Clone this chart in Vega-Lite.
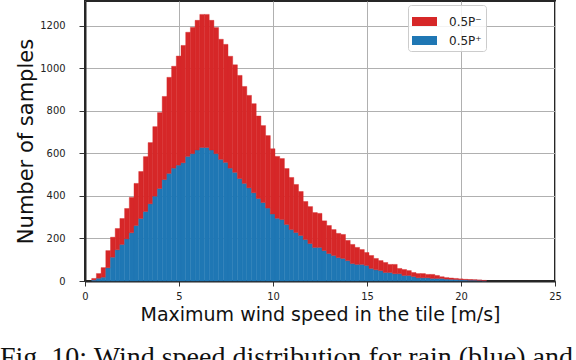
{
  "$schema": "https://vega.github.io/schema/vega-lite/v6.json",
  "width": 470,
  "height": 280,
  "autosize": {"type": "none"},
  "padding": {"left": 85, "top": 1, "right": 21, "bottom": 79},
  "background": "white",
  "title": {
    "text": "Fig. 10: Wind speed distribution for rain (blue) and",
    "orient": "bottom",
    "anchor": "start",
    "frame": "group",
    "dx": -85,
    "offset": 20,
    "baseline": "top",
    "font": "Liberation Serif",
    "fontSize": 28,
    "fontWeight": "normal",
    "color": "#111"
  },
  "config": {
    "view": {"stroke": "#262626", "strokeWidth": 2},
    "axis": {"zindex": 1}
  },
  "data": {
    "values": [
      {"x0": 0.33, "x1": 0.58, "pos": 5, "neg": 7},
      {"x0": 0.58, "x1": 0.83, "pos": 13, "neg": 22},
      {"x0": 0.83, "x1": 1.08, "pos": 18, "neg": 45},
      {"x0": 1.08, "x1": 1.33, "pos": 62, "neg": 81},
      {"x0": 1.33, "x1": 1.58, "pos": 112, "neg": 94},
      {"x0": 1.58, "x1": 1.83, "pos": 147, "neg": 100},
      {"x0": 1.83, "x1": 2.08, "pos": 172, "neg": 122},
      {"x0": 2.08, "x1": 2.33, "pos": 198, "neg": 143},
      {"x0": 2.33, "x1": 2.58, "pos": 227, "neg": 166},
      {"x0": 2.58, "x1": 2.83, "pos": 261, "neg": 198},
      {"x0": 2.83, "x1": 3.08, "pos": 294, "neg": 221},
      {"x0": 3.08, "x1": 3.33, "pos": 327, "neg": 258},
      {"x0": 3.33, "x1": 3.58, "pos": 363, "neg": 288},
      {"x0": 3.58, "x1": 3.83, "pos": 399, "neg": 327},
      {"x0": 3.83, "x1": 4.08, "pos": 435, "neg": 357},
      {"x0": 4.08, "x1": 4.33, "pos": 477, "neg": 391},
      {"x0": 4.33, "x1": 4.58, "pos": 506, "neg": 452},
      {"x0": 4.58, "x1": 4.83, "pos": 531, "neg": 479},
      {"x0": 4.83, "x1": 5.08, "pos": 545, "neg": 513},
      {"x0": 5.08, "x1": 5.33, "pos": 556, "neg": 552},
      {"x0": 5.33, "x1": 5.58, "pos": 586, "neg": 584},
      {"x0": 5.58, "x1": 5.83, "pos": 599, "neg": 594},
      {"x0": 5.83, "x1": 6.08, "pos": 616, "neg": 610},
      {"x0": 6.08, "x1": 6.33, "pos": 628, "neg": 626},
      {"x0": 6.33, "x1": 6.58, "pos": 628, "neg": 626},
      {"x0": 6.58, "x1": 6.83, "pos": 616, "neg": 610},
      {"x0": 6.83, "x1": 7.08, "pos": 599, "neg": 593},
      {"x0": 7.08, "x1": 7.33, "pos": 572, "neg": 565},
      {"x0": 7.33, "x1": 7.58, "pos": 558, "neg": 555},
      {"x0": 7.58, "x1": 7.83, "pos": 531, "neg": 526},
      {"x0": 7.83, "x1": 8.08, "pos": 511, "neg": 506},
      {"x0": 8.08, "x1": 8.33, "pos": 482, "neg": 485},
      {"x0": 8.33, "x1": 8.58, "pos": 459, "neg": 456},
      {"x0": 8.58, "x1": 8.83, "pos": 438, "neg": 435},
      {"x0": 8.83, "x1": 9.08, "pos": 415, "neg": 419},
      {"x0": 9.08, "x1": 9.33, "pos": 388, "neg": 388},
      {"x0": 9.33, "x1": 9.58, "pos": 369, "neg": 362},
      {"x0": 9.58, "x1": 9.83, "pos": 343, "neg": 341},
      {"x0": 9.83, "x1": 10.08, "pos": 315, "neg": 307},
      {"x0": 10.08, "x1": 10.33, "pos": 295, "neg": 291},
      {"x0": 10.33, "x1": 10.58, "pos": 289, "neg": 287},
      {"x0": 10.58, "x1": 10.83, "pos": 266, "neg": 263},
      {"x0": 10.83, "x1": 11.08, "pos": 242, "neg": 245},
      {"x0": 11.08, "x1": 11.33, "pos": 228, "neg": 226},
      {"x0": 11.33, "x1": 11.58, "pos": 214, "neg": 207},
      {"x0": 11.58, "x1": 11.83, "pos": 195, "neg": 179},
      {"x0": 11.83, "x1": 12.08, "pos": 176, "neg": 174},
      {"x0": 12.08, "x1": 12.33, "pos": 158, "neg": 164},
      {"x0": 12.33, "x1": 12.58, "pos": 158, "neg": 160},
      {"x0": 12.58, "x1": 12.83, "pos": 143, "neg": 140},
      {"x0": 12.83, "x1": 13.08, "pos": 129, "neg": 132},
      {"x0": 13.08, "x1": 13.33, "pos": 120, "neg": 122},
      {"x0": 13.33, "x1": 13.58, "pos": 110, "neg": 114},
      {"x0": 13.58, "x1": 13.83, "pos": 106, "neg": 113},
      {"x0": 13.83, "x1": 14.08, "pos": 96, "neg": 95},
      {"x0": 14.08, "x1": 14.33, "pos": 82, "neg": 90},
      {"x0": 14.33, "x1": 14.58, "pos": 78, "neg": 80},
      {"x0": 14.58, "x1": 14.83, "pos": 78, "neg": 70},
      {"x0": 14.83, "x1": 15.08, "pos": 73, "neg": 61},
      {"x0": 15.08, "x1": 15.33, "pos": 59, "neg": 61},
      {"x0": 15.33, "x1": 15.58, "pos": 53, "neg": 53},
      {"x0": 15.58, "x1": 15.83, "pos": 49, "neg": 47},
      {"x0": 15.83, "x1": 16.08, "pos": 40, "neg": 47},
      {"x0": 16.08, "x1": 16.33, "pos": 40, "neg": 38},
      {"x0": 16.33, "x1": 16.58, "pos": 34, "neg": 44},
      {"x0": 16.58, "x1": 16.83, "pos": 34, "neg": 25},
      {"x0": 16.83, "x1": 17.08, "pos": 26, "neg": 28},
      {"x0": 17.08, "x1": 17.33, "pos": 26, "neg": 23},
      {"x0": 17.33, "x1": 17.58, "pos": 21, "neg": 19},
      {"x0": 17.58, "x1": 17.83, "pos": 15, "neg": 20},
      {"x0": 17.83, "x1": 18.08, "pos": 15, "neg": 20},
      {"x0": 18.08, "x1": 18.33, "pos": 15, "neg": 16},
      {"x0": 18.33, "x1": 18.58, "pos": 12, "neg": 19},
      {"x0": 18.58, "x1": 18.83, "pos": 12, "neg": 14},
      {"x0": 18.83, "x1": 19.08, "pos": 12, "neg": 8},
      {"x0": 19.08, "x1": 19.33, "pos": 9, "neg": 7},
      {"x0": 19.33, "x1": 19.58, "pos": 8, "neg": 6},
      {"x0": 19.58, "x1": 19.83, "pos": 7, "neg": 5},
      {"x0": 19.83, "x1": 20.08, "pos": 6, "neg": 4},
      {"x0": 20.08, "x1": 20.33, "pos": 5, "neg": 3},
      {"x0": 20.33, "x1": 20.58, "pos": 4, "neg": 3},
      {"x0": 20.58, "x1": 20.83, "pos": 4, "neg": 2},
      {"x0": 20.83, "x1": 21.08, "pos": 3, "neg": 2},
      {"x0": 21.08, "x1": 21.33, "pos": 1, "neg": 2}
    ]
  },
  "transform": [{"fold": ["pos", "neg"], "as": ["series", "count"]}],
  "mark": {"type": "bar", "strokeWidth": 0.4, "binSpacing": 0},
  "encoding": {
    "x": {
      "field": "x0",
      "type": "quantitative",
      "bin": "binned",
      "scale": {"domain": [0, 25], "nice": false, "zero": false},
      "axis": {
        "values": [0, 5, 10, 15, 20, 25],
        "format": "d",
        "title": "Maximum wind speed in the tile [m/s]",
        "titleFont": "DejaVu Sans",
        "titleFontSize": 19,
        "titleFontWeight": "normal",
        "titleColor": "#111",
        "titleX": 235,
        "titleY": 39,
        "titleBaseline": "alphabetic",
        "labelFont": "DejaVu Sans Condensed, DejaVu Sans",
        "labelFontSize": 11,
        "labelColor": "#222",
        "labelPadding": 4,
        "labelFlush": false,
        "tickSize": 5,
        "tickColor": "#333",
        "tickWidth": 1,
        "domainColor": "#262626",
        "domainWidth": 2,
        "grid": true,
        "gridColor": "#b0b0b0",
        "gridWidth": 1
      }
    },
    "x2": {"field": "x1"},
    "y": {
      "field": "count",
      "type": "quantitative",
      "stack": "zero",
      "scale": {"domain": [0, 1317], "nice": false},
      "axis": {
        "values": [0, 200, 400, 600, 800, 1000, 1200],
        "format": "d",
        "title": "Number of samples",
        "titleFont": "DejaVu Sans",
        "titleFontSize": 21,
        "titleFontWeight": "normal",
        "titleColor": "#111",
        "titleX": -53,
        "titleY": 140,
        "titleAngle": -90,
        "titleAlign": "center",
        "titleBaseline": "alphabetic",
        "labelFont": "DejaVu Sans Condensed, DejaVu Sans",
        "labelFontSize": 11,
        "labelColor": "#222",
        "labelPadding": 14,
        "tickSize": 6,
        "tickColor": "#333",
        "domainColor": "#262626",
        "domainWidth": 2,
        "grid": true,
        "gridColor": "#b0b0b0",
        "gridWidth": 1
      }
    },
    "color": {
      "field": "series",
      "type": "nominal",
      "scale": {"domain": ["neg", "pos"], "range": ["#d62728", "#1f77b4"]},
      "legend": {
        "title": null,
        "orient": "none",
        "legendX": 323,
        "legendY": 4,
        "labelExpr": "datum.label == 'neg' ? '0.5P\u207b' : '0.5P\u207a'",
        "symbolType": "M-1,-0.36H1V0.36H-1Z",
        "symbolSize": 625,
        "symbolStrokeWidth": 0,
        "labelFont": "DejaVu Sans",
        "labelFontSize": 12,
        "labelColor": "#222",
        "labelOffset": 12,
        "rowPadding": -2,
        "padding": 4,
        "strokeColor": "#cccccc",
        "fillColor": "rgba(255,255,255,0.85)",
        "cornerRadius": 3
      }
    },
    "stroke": {
      "field": "series",
      "type": "nominal",
      "scale": {"domain": ["neg", "pos"], "range": ["#d62728", "#1f77b4"]},
      "legend": null
    },
    "order": {"field": "series", "sort": "descending"}
  }
}
